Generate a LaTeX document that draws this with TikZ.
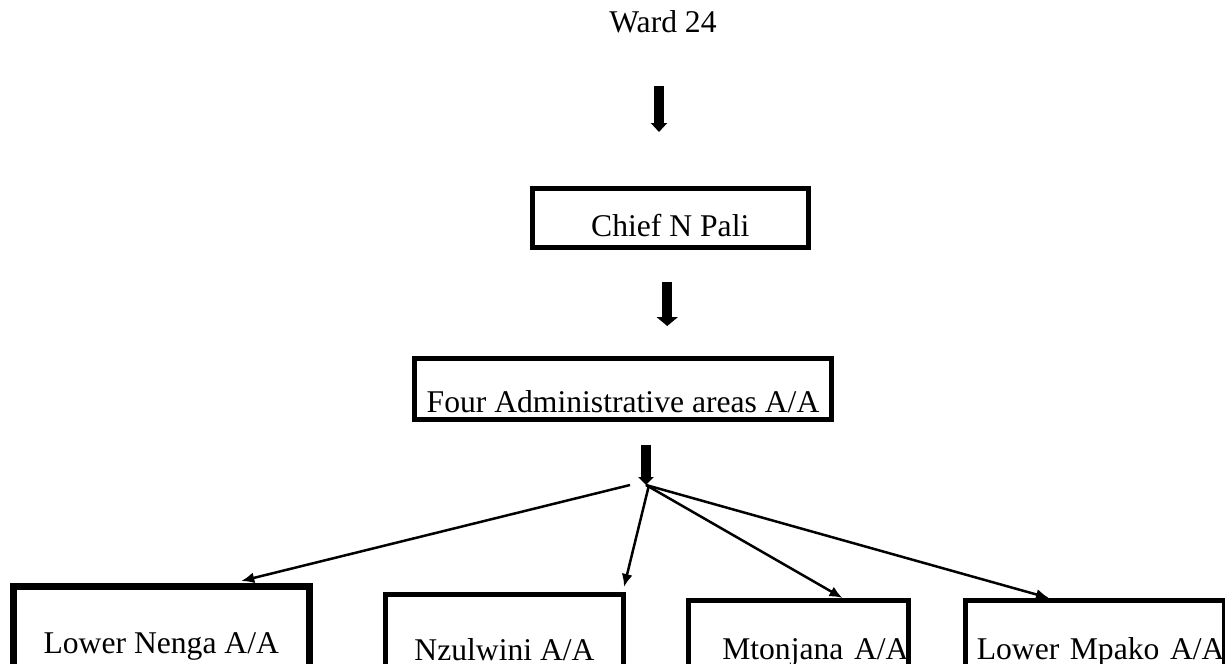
\documentclass[tikz,border=0pt]{standalone}
\usepackage{fontspec}
\setmainfont{Liberation Serif}
\usetikzlibrary{positioning,arrows.meta,calc}
\tikzset{
  areabox/.style={rectangle,draw,line width=1mm,inner sep=0pt,anchor=north west},
  blockarrow/.style={line width=2mm,-{Triangle[length=1.8mm,width=3.2mm]}},
  thinarrow/.style={line width=0.5mm,-{Latex[length=2.6mm,width=2.2mm]}}
}
\begin{document}
\begin{tikzpicture}[x=0.2mm,y=-0.2mm,font=\fontsize{18}{21}\selectfont]
  \clip (0,0) rectangle (1225,663);
  \node[inner sep=0pt,anchor=base] (ward) at (663,32) {Ward 24};
  \node[areabox,line width=0.9mm,minimum width=55.2mm,text height=9.6mm,text depth=2.2mm] (chief) at (530,186) {Chief N Pali};
  \node[areabox,minimum width=83.4mm,text height=10.8mm,text depth=1.4mm] (four) at (412,356) {Four Administrative areas A/A};
  \coordinate (hub) at (646,485);
  \node[areabox,line width=1.3mm,minimum width=59.2mm,text height=13.4mm,text depth=8mm] (nenga) at (10,583) {Lower Nenga A/A};
  \node[areabox,minimum width=47.6mm,text height=13.2mm,text depth=8mm] (nzulwini) at (383,592) {Nzulwini A/A};
  \node[areabox,text width=44mm,align=right,text height=11.8mm,text depth=8mm] (mtonjana) at (686,598) {Mtonjana A/A};
  \node[areabox,text width=51.8mm,align=right,text height=11.8mm,text depth=8mm] (mpako) at (963,598) {Lower Mpako A/A};
  % block arrows down the chain
  \draw[blockarrow,shorten <=10.6mm,shorten >=10.8mm] ([xshift=-0.8mm]ward.south) -- ([xshift=-0.8mm]ward.south |- chief.north);
  \draw[blockarrow,-{Triangle[length=1.8mm,width=4.2mm]},shorten <=6.4mm,shorten >=6mm] ([xshift=-0.6mm]chief.south) -- ([xshift=-0.6mm]chief.south |- four.north);
  \draw[blockarrow,-{Triangle[length=1.6mm,width=3mm]},shorten <=4.6mm] (hub |- four.south) -- (hub);
  % branches to the four areas
  \draw[thinarrow] ([xshift=-3.2mm]hub) -- ([xshift=16mm,yshift=0.4mm]nenga.north);
  \draw[thinarrow] ([xshift=0.6mm]hub) -- ([xshift=-0.4mm,yshift=1mm]nzulwini.north east);
  \draw[thinarrow] (hub) -- ([xshift=8.8mm]mtonjana.north);
  \draw[thinarrow] (hub) -- ([xshift=-9.2mm]mpako.north);
\end{tikzpicture}
\end{document}
